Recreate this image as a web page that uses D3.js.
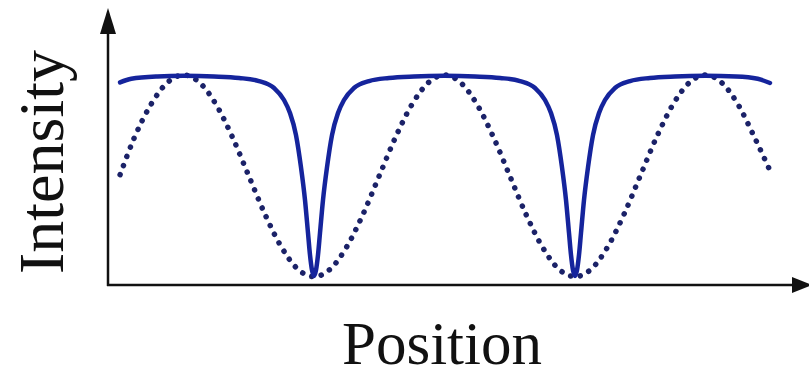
<html>
<head>
  <script src="https://d3js.org/d3.v7.min.js"></script>
  <style>
    body { margin: 0; background: white; }
    text { font-family: "Liberation Serif", "DejaVu Serif", serif; fill: #111; }
  </style>
</head>
<body>
  <svg id="chart" width="809" height="378"></svg>
  <script>
    // solid curve (sharp dips) : position, intensity
    const solidPos = [0.257, 0.30, 0.40, 0.50, 0.617, 0.713, 0.789, 0.847, 0.885, 0.908, 0.931, 0.950, 0.9655, 0.977, 0.9847, 0.9923, 1.0,
      1.0077, 1.0153, 1.023, 1.0345, 1.050, 1.069, 1.092, 1.115, 1.153, 1.211, 1.287, 1.383, 1.50,
      1.617, 1.713, 1.789, 1.847, 1.885, 1.908, 1.931, 1.950, 1.9655, 1.977, 1.9847, 1.9923, 2.0,
      2.0077, 2.0153, 2.023, 2.0345, 2.050, 2.069, 2.092, 2.115, 2.153, 2.211, 2.287, 2.383, 2.50,
      2.617, 2.700, 2.747];
    const solidVal = [0.965, 0.982, 0.993, 0.996, 0.993, 0.986, 0.971, 0.938, 0.881, 0.819, 0.714, 0.562, 0.405, 0.248, 0.143, 0.071, 0.043,
      0.071, 0.143, 0.248, 0.405, 0.562, 0.714, 0.819, 0.881, 0.938, 0.971, 0.986, 0.993, 0.996,
      0.993, 0.986, 0.971, 0.938, 0.881, 0.819, 0.714, 0.562, 0.405, 0.248, 0.143, 0.071, 0.043,
      0.071, 0.143, 0.248, 0.405, 0.562, 0.714, 0.819, 0.881, 0.938, 0.971, 0.986, 0.993, 0.996,
      0.993, 0.982, 0.962];

    // dotted curve (smooth oscillation)
    const dotPos = [0.257, 0.3125, 0.375, 0.4375, 0.5, 0.5625, 0.625, 0.6875, 0.75, 0.8125, 0.875, 0.9375, 1.0,
      1.0625, 1.125, 1.1875, 1.25, 1.3125, 1.375, 1.4375, 1.5, 1.5625, 1.625, 1.6875, 1.75, 1.8125, 1.875, 1.9375, 2.0,
      2.0625, 2.125, 2.1875, 2.25, 2.3125, 2.375, 2.4375, 2.5, 2.5625, 2.625, 2.6875, 2.747];
    const dotVal = [0.525, 0.704, 0.859, 0.963, 1.0, 0.963, 0.859, 0.704, 0.52, 0.336, 0.181, 0.076, 0.04,
      0.076, 0.181, 0.336, 0.52, 0.704, 0.859, 0.963, 1.0, 0.963, 0.859, 0.704, 0.52, 0.336, 0.181, 0.076, 0.04,
      0.076, 0.181, 0.336, 0.52, 0.704, 0.859, 0.963, 1.0, 0.963, 0.859, 0.704, 0.545];

    const svg = d3.select("#chart");
    const originX = 108, originY = 285;

    const x = d3.scaleLinear().domain([0, 3]).range([53, 836]);
    const y = d3.scaleLinear().domain([0, 1]).range([originY, 75]);

    const line = d3.line()
      .x(d => x(d[0]))
      .y(d => y(d[1]))
      .curve(d3.curveMonotoneX);

    const dotted = dotPos.map((p, i) => [p, dotVal[i]]);
    const solid = solidPos.map((p, i) => [p, solidVal[i]]);

    svg.append("path")
      .datum(dotted)
      .attr("d", line)
      .attr("fill", "none")
      .attr("stroke", "#1b2268")
      .attr("stroke-width", 5.5)
      .attr("stroke-linecap", "round")
      .attr("stroke-dasharray", "0.1 9.6");

    svg.append("path")
      .datum(solid)
      .attr("d", line)
      .attr("fill", "none")
      .attr("stroke", "#15249c")
      .attr("stroke-width", 4.5)
      .attr("stroke-linecap", "round")
      .attr("stroke-linejoin", "round");

    // axes with arrowheads
    svg.append("line")
      .attr("x1", originX).attr("y1", originY + 1)
      .attr("x2", originX).attr("y2", 30)
      .attr("stroke", "#111").attr("stroke-width", 2.5);
    svg.append("path")
      .attr("d", `M${originX},8 L${originX - 8},34 L${originX + 8},34 Z`)
      .attr("fill", "#111");

    svg.append("line")
      .attr("x1", originX - 1).attr("y1", originY)
      .attr("x2", 796).attr("y2", originY)
      .attr("stroke", "#111").attr("stroke-width", 2.5);
    svg.append("path")
      .attr("d", `M${812},${originY} L${792},${originY - 8} L${792},${originY + 8} Z`)
      .attr("fill", "#111");

    svg.append("text")
      .attr("transform", "translate(63,162) rotate(-90)")
      .attr("text-anchor", "middle")
      .attr("font-size", 64)
      .text("Intensity");

    svg.append("text")
      .attr("x", 442).attr("y", 364)
      .attr("text-anchor", "middle")
      .attr("font-size", 61)
      .text("Position");
  </script>
</body>
</html>
